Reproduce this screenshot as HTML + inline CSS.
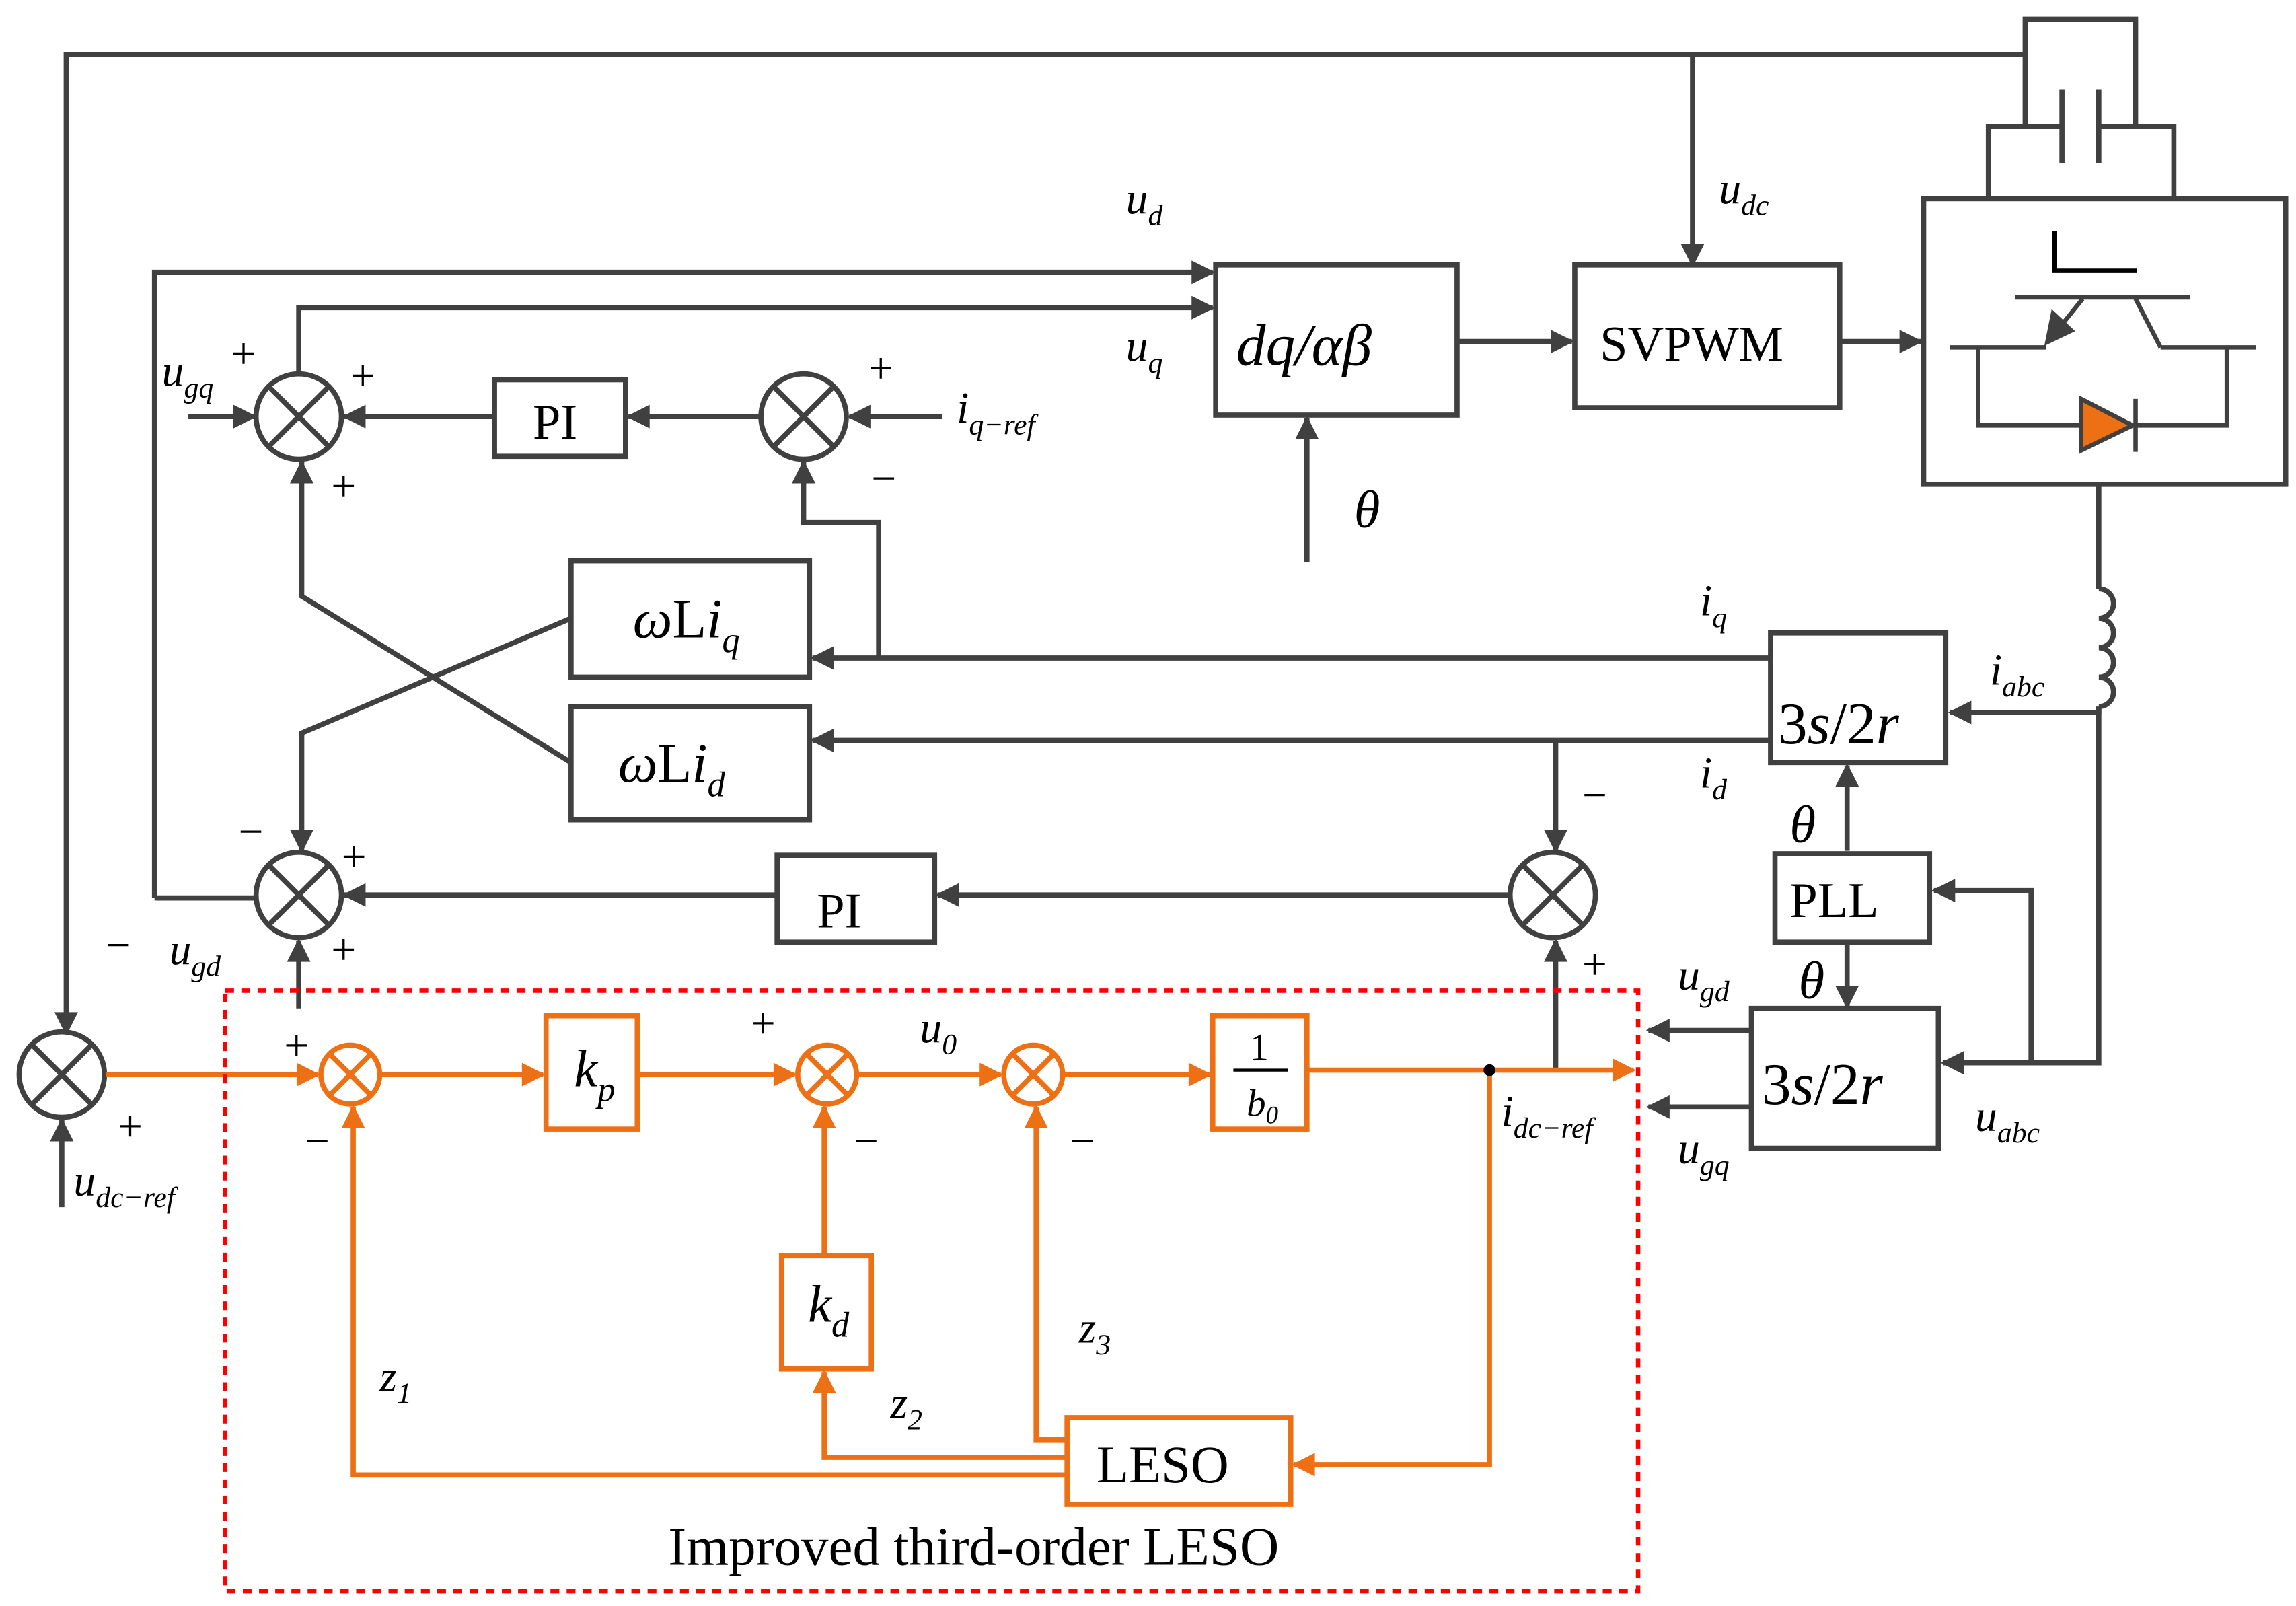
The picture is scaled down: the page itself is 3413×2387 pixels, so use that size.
<!DOCTYPE html>
<html><head><meta charset="utf-8"><style>
html,body{margin:0;padding:0;background:#fff}
svg{display:block}
text{font-family:"Liberation Serif",serif;fill:#000}
.i{font-style:italic}
</style></head><body>
<svg width="3413" height="2387" viewBox="0 0 1560 1091" preserveAspectRatio="none" xmlns="http://www.w3.org/2000/svg">
<defs>
<marker id="a" viewBox="0 0 10 10" refX="9" refY="5" markerWidth="6" markerHeight="6" orient="auto" markerUnits="userSpaceOnUse"><path d="M0,0 L10,5 L0,10 Z" fill="#404040"/></marker>
<marker id="ag" viewBox="0 0 10 10" refX="9" refY="5" markerWidth="20" markerHeight="16" orient="auto" markerUnits="userSpaceOnUse"><path d="M0,0 L10,5 L0,10 Z" fill="#404040"/></marker>
<marker id="ao" viewBox="0 0 10 10" refX="9" refY="5" markerWidth="20" markerHeight="16" orient="auto" markerUnits="userSpaceOnUse"><path d="M0,0 L10,5 L0,10 Z" fill="#ED7014"/></marker>
</defs>
<g stroke="#404040" stroke-width="3.5" fill="none">
<!-- top line -->
<polyline points="1376,37 45,37 45,702" marker-end="url(#ag)"/>
<line x1="1150" y1="37" x2="1150" y2="180" marker-end="url(#ag)"/>
<!-- capacitor -->
<polyline points="1376,86 1376,13 1451,13 1451,86"/>
<polyline points="1351,135 1351,86 1401,86"/>
<polyline points="1426,86 1477,86 1477,135"/>
<line x1="1401" y1="61" x2="1401" y2="111"/>
<line x1="1426" y1="61" x2="1426" y2="111"/>
<!-- inverter -->
<rect x="1307" y="135" width="246" height="194"/>
<line x1="1369" y1="202" x2="1488" y2="202" stroke-width="3"/>
<line x1="1415" y1="203" x2="1395" y2="228" stroke-width="3"/>
<line x1="1451" y1="203" x2="1468" y2="236" stroke-width="3"/>
<line x1="1325" y1="236" x2="1390" y2="236" stroke-width="3"/>
<line x1="1468" y1="236" x2="1533" y2="236" stroke-width="3"/>
<polyline points="1344,236 1344,289 1414,289" stroke-width="3"/>
<polyline points="1513,236 1513,289 1451,289" stroke-width="3"/>
<line x1="1451" y1="271" x2="1451" y2="307" stroke-width="3"/>
<line x1="1426" y1="329" x2="1426" y2="400"/>
<path d="M1426,400 a10,10 0 0 1 0,20 a10,10 0 0 1 0,20 a10,10 0 0 1 0,20 a10,10 0 0 1 0,20" />
<polyline points="1426,480 1426,722 1320,722" marker-end="url(#ag)"/>
<polyline points="1426,480 1426,484 1325,484" marker-end="url(#ag)"/>
<polyline points="1380,722 1380,605 1314,605" marker-end="url(#ag)"/>
<!-- boxes -->
<rect x="826" y="180" width="164" height="102"/>
<rect x="1070" y="180" width="180" height="97"/>
<rect x="336" y="258" width="89" height="52"/>
<rect x="388" y="381" width="162" height="79"/>
<rect x="388" y="480" width="162" height="77"/>
<rect x="528" y="581" width="107" height="59"/>
<rect x="1203" y="430" width="119" height="88"/>
<rect x="1206" y="580" width="105" height="60"/>
<rect x="1190" y="685" width="127" height="95"/>
<!-- junctions -->
<circle cx="203" cy="283" r="29"/><line x1="183" y1="263" x2="223" y2="303"/><line x1="223" y1="263" x2="183" y2="303"/>
<circle cx="546" cy="283" r="29"/><line x1="526" y1="263" x2="566" y2="303"/><line x1="566" y1="263" x2="526" y2="303"/>
<circle cx="203" cy="608" r="29"/><line x1="183" y1="588" x2="223" y2="628"/><line x1="223" y1="588" x2="183" y2="628"/>
<circle cx="1055" cy="608" r="29"/><line x1="1035" y1="588" x2="1075" y2="628"/><line x1="1075" y1="588" x2="1035" y2="628"/>
<circle cx="42" cy="730" r="29"/><line x1="22" y1="710" x2="62" y2="750"/><line x1="62" y1="710" x2="22" y2="750"/>
<!-- arrows -->
<line x1="990" y1="232" x2="1068" y2="232" marker-end="url(#ag)"/>
<line x1="1250" y1="232" x2="1305" y2="232" marker-end="url(#ag)"/>
<line x1="888" y1="382" x2="888" y2="284" marker-end="url(#ag)"/>
<polyline points="105,610 105,185 824,185" marker-end="url(#ag)"/>
<line x1="105" y1="610" x2="174" y2="610"/>
<polyline points="203,254 203,209 824,209" marker-end="url(#ag)"/>
<line x1="336" y1="283" x2="234" y2="283" marker-end="url(#ag)"/>
<line x1="517" y1="283" x2="427" y2="283" marker-end="url(#ag)"/>
<line x1="640" y1="283" x2="577" y2="283" marker-end="url(#ag)"/>
<line x1="128" y1="283" x2="173" y2="283" marker-end="url(#ag)"/>
<polyline points="597,447 597,355 546,355 546,314" marker-end="url(#ag)"/>
<line x1="1203" y1="447" x2="552" y2="447" marker-end="url(#ag)"/>
<line x1="1203" y1="503" x2="552" y2="503" marker-end="url(#ag)"/>
<polyline points="388,420 205,498 205,578" marker-end="url(#ag)"/>
<polyline points="388,518 205,405 205,314" marker-end="url(#ag)"/>
<line x1="1026" y1="608" x2="637" y2="608" marker-end="url(#ag)"/>
<line x1="528" y1="608" x2="234" y2="608" marker-end="url(#ag)"/>
<line x1="1057" y1="503" x2="1057" y2="578" marker-end="url(#ag)"/>
<line x1="203" y1="685" x2="203" y2="639" marker-end="url(#ag)"/>
<line x1="1057" y1="727" x2="1057" y2="639" marker-end="url(#ag)"/>
<line x1="1255" y1="578" x2="1255" y2="520" marker-end="url(#ag)"/>
<line x1="1255" y1="640" x2="1255" y2="684" marker-end="url(#ag)"/>
<line x1="1190" y1="700" x2="1120" y2="700" marker-end="url(#ag)"/>
<line x1="1190" y1="752" x2="1120" y2="752" marker-end="url(#ag)"/>
<line x1="42" y1="820" x2="42" y2="761" marker-end="url(#ag)"/>
</g>
<path d="M1389,235 L1394,210 L1410,225 Z" fill="#404040"/>
<polyline points="1396,157 1396,184 1452,184" stroke="#000" stroke-width="3" fill="none"/>
<path d="M1414,271 L1449,289 L1414,306 Z" fill="#ED7014" stroke="#404040" stroke-width="3"/>
<!-- orange -->
<g stroke="#ED7014" stroke-width="3.5" fill="none">
<line x1="72" y1="730" x2="216" y2="730" marker-end="url(#ao)"/>
<circle cx="238" cy="730" r="20"/><line x1="224" y1="716" x2="252" y2="744"/><line x1="252" y1="716" x2="224" y2="744"/>
<circle cx="562" cy="730" r="20"/><line x1="548" y1="716" x2="576" y2="744"/><line x1="576" y1="716" x2="548" y2="744"/>
<circle cx="702" cy="730" r="20"/><line x1="688" y1="716" x2="716" y2="744"/><line x1="716" y1="716" x2="688" y2="744"/>
<rect x="371" y="690" width="62" height="77"/>
<rect x="824" y="690" width="64" height="77"/>
<rect x="531" y="853" width="61" height="77"/>
<rect x="725" y="963" width="152" height="59"/>
<line x1="258" y1="730" x2="369" y2="730" marker-end="url(#ao)"/>
<line x1="433" y1="730" x2="540" y2="730" marker-end="url(#ao)"/>
<line x1="582" y1="730" x2="680" y2="730" marker-end="url(#ao)"/>
<line x1="722" y1="730" x2="822" y2="730" marker-end="url(#ao)"/>
<line x1="888" y1="727" x2="1110" y2="727" marker-end="url(#ao)"/>
<polyline points="1012,727 1012,995 879,995" marker-end="url(#ao)"/>
<polyline points="725,1002 240,1002 240,752" marker-end="url(#ao)"/>
<polyline points="725,990 560,990 560,932" marker-end="url(#ao)"/>
<line x1="560" y1="853" x2="560" y2="752" marker-end="url(#ao)"/>
<polyline points="725,978 704,978 704,752" marker-end="url(#ao)"/>
</g>
<circle cx="1012" cy="727" r="4" fill="#000"/>
<rect x="153" y="673" width="960" height="408" fill="none" stroke="#FF0000" stroke-width="3" stroke-dasharray="6,5"/>
<!-- texts -->
<g font-size="36">
<text x="840" y="248" class="i" font-size="40">dq/αβ</text>
<text x="1087" y="245" font-size="34">SVPWM</text>
<text x="362" y="298" font-size="34">PI</text>
<text x="555" y="630" font-size="34">PI</text>
<text x="1216" y="623" font-size="34">PLL</text>
<text x="1208" y="505" font-size="40">3<tspan class="i">s</tspan>/2<tspan class="i">r</tspan></text>
<text x="1197" y="750" font-size="40">3<tspan class="i">s</tspan>/2<tspan class="i">r</tspan></text>
<text x="430" y="433" font-size="38"><tspan class="i">ω</tspan>L<tspan class="i">i</tspan><tspan class="i" font-size="24" dy="10">q</tspan></text>
<text x="420" y="531" font-size="38"><tspan class="i">ω</tspan>L<tspan class="i">i</tspan><tspan class="i" font-size="24" dy="10">d</tspan></text>
<text x="390" y="738" class="i">k<tspan font-size="24" dy="10">p</tspan></text>
<text x="549" y="898" class="i">k<tspan font-size="24" dy="10">d</tspan></text>
<text x="849" y="720" font-size="26">1</text>
<line x1="838" y1="727" x2="875" y2="727" stroke="#000" stroke-width="2"/>
<text x="847" y="758" class="i" font-size="26">b<tspan font-size="17" dy="5">0</tspan></text>
<text x="745" y="1007" font-size="36">LESO</text>
<text x="454" y="1063" font-size="37">Improved third-order LESO</text>
<text x="920" y="358" class="i">θ</text>
<text x="1216" y="572" class="i">θ</text>
<text x="1222" y="678" class="i">θ</text>
<g font-size="30" class="i">
<text x="765" y="145">u<tspan font-size="20" dy="8">d</tspan></text>
<text x="765" y="245">u<tspan font-size="20" dy="8">q</tspan></text>
<text x="1168" y="138">u<tspan font-size="20" dy="8">dc</tspan></text>
<text x="110" y="262">u<tspan font-size="20" dy="8">gq</tspan></text>
<text x="650" y="287">i<tspan font-size="20" dy="8">q−ref</tspan></text>
<text x="1155" y="418">i<tspan font-size="20" dy="8">q</tspan></text>
<text x="1155" y="535">i<tspan font-size="20" dy="8">d</tspan></text>
<text x="1352" y="465">i<tspan font-size="20" dy="8">abc</tspan></text>
<text x="1342" y="768">u<tspan font-size="20" dy="8">abc</tspan></text>
<text x="1140" y="672">u<tspan font-size="20" dy="8">gd</tspan></text>
<text x="1140" y="790">u<tspan font-size="20" dy="8">gq</tspan></text>
<text x="115" y="655">u<tspan font-size="20" dy="8">gd</tspan></text>
<text x="50" y="812">u<tspan font-size="20" dy="8">dc−ref</tspan></text>
<text x="1020" y="765">i<tspan font-size="20" dy="8">dc−ref</tspan></text>
<text x="625" y="708">u<tspan font-size="20" dy="8">0</tspan></text>
<text x="258" y="945">z<tspan font-size="20" dy="8">1</tspan></text>
<text x="605" y="963">z<tspan font-size="20" dy="8">2</tspan></text>
<text x="733" y="912">z<tspan font-size="20" dy="8">3</tspan></text>
</g>
<g font-size="30">
<text x="157" y="250">+</text><text x="238" y="265">+</text><text x="225" y="340">+</text>
<text x="590" y="260">+</text><text x="592" y="335">−</text>
<text x="162" y="575">−</text><text x="232" y="592">+</text><text x="225" y="655">+</text>
<text x="72" y="652">−</text><text x="1075" y="550">−</text><text x="1075" y="665">+</text>
<text x="80" y="775">+</text><text x="193" y="720">+</text><text x="207" y="785">−</text>
<text x="510" y="705">+</text><text x="580" y="785">−</text><text x="727" y="785">−</text>
</g>
</g>
</svg>
</body></html>
